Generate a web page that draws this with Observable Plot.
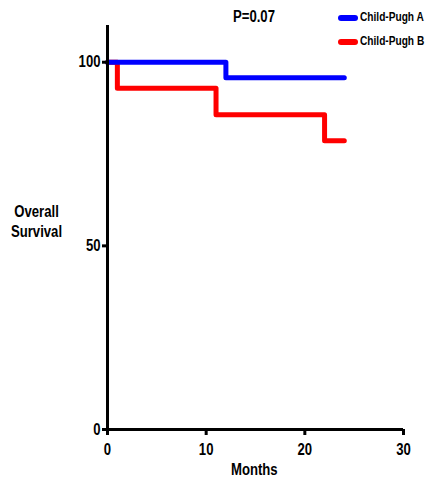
<!DOCTYPE html>
<html>
<head>
<meta charset="utf-8">
<script src="https://cdn.jsdelivr.net/npm/d3@7"></script>
<script src="https://cdn.jsdelivr.net/npm/@observablehq/plot@0.6"></script>
<style>
  html, body { margin: 0; padding: 0; background: #fff; }
  #wrap { position: relative; width: 425px; height: 483px; font-family: "Liberation Sans", Arial, sans-serif; font-weight: bold; }
  .abs { position: absolute; white-space: nowrap; color: #000; transform: scaleX(0.82); transform-origin: left center; }
  .sw { position: absolute; width: 20px; height: 6px; border-radius: 3px; }
</style>
</head>
<body>
<div id="wrap"></div>
<script>
const monthsA = [0, 12, 24];
const survivalA = [100, 95.8, 95.8];
const monthsB = [0, 1, 11, 22, 24];
const survivalB = [100, 92.9, 85.7, 78.6, 78.6];
const groups = ["Child-Pugh A", "Child-Pugh B"];
const colors = ["#0000ff", "#ff0000"];
const xTicks = [0, 10, 20, 30];
const yTicks = [0, 50, 100];
const pValue = "P=0.07";

const dataA = monthsA.map((m, i) => ({month: m, survival: survivalA[i], group: groups[0]}));
const dataB = monthsB.map((m, i) => ({month: m, survival: survivalB[i], group: groups[1]}));

const font = '"Liberation Sans", Arial, sans-serif';

const chart = Plot.plot({
  width: 425,
  height: 483,
  marginLeft: 107,
  marginRight: 22,
  marginTop: 25,
  marginBottom: 54,
  style: {fontFamily: font, fontWeight: "bold", fontSize: "16px", background: "#fff", overflow: "visible"},
  x: {domain: [0, 30], ticks: xTicks},
  y: {domain: [0, 110], ticks: yTicks},
  color: {domain: groups, range: colors},
  marks: [
    Plot.line(dataB, {x: "month", y: "survival", stroke: "group", strokeWidth: 5, curve: "step-after", strokeLinecap: "round"}),
    Plot.line(dataA, {x: "month", y: "survival", stroke: "group", strokeWidth: 5, curve: "step-after", strokeLinecap: "round"}),
    Plot.ruleX([0], {stroke: "#000", strokeWidth: 3}),
    Plot.ruleY([0], {stroke: "#000", strokeWidth: 3}),
    Plot.axisX({ticks: xTicks, tickSize: 6, strokeWidth: 3, tickPadding: 8, fontSize: 16, fontWeight: "bold", label: null}),
    Plot.axisY({ticks: yTicks, tickSize: 5, strokeWidth: 3, tickPadding: 2, fontSize: 16, fontWeight: "bold", label: null})
  ]
});

// condense tick labels horizontally around their anchor point
chart.querySelectorAll('g[aria-label$="tick label"] text').forEach(t => {
  const tr = t.getAttribute("transform") || "";
  t.setAttribute("transform", tr + " scale(0.82,1)");
});

const wrap = document.getElementById("wrap");
wrap.appendChild(chart);

function addText(txt, left, top, size, align) {
  const d = document.createElement("div");
  d.className = "abs";
  d.textContent = txt;
  d.style.left = left + "px";
  d.style.top = top + "px";
  d.style.fontSize = size + "px";
  if (align) d.style.textAlign = align;
  wrap.appendChild(d);
  return d;
}
addText(pValue, 233, 8, 16);
addText("Months", 231, 461, 16);
const ys = addText("Overall\nSurvival", 11, 202, 16, "center");
ys.style.whiteSpace = "pre";
ys.style.lineHeight = "20px";
groups.forEach((g, i) => {
  const s = document.createElement("div");
  s.className = "sw";
  s.style.left = "338px";
  s.style.top = (15 + i * 24) + "px";
  s.style.background = colors[i];
  wrap.appendChild(s);
  const t = addText(g, 360, 9 + i * 24, 13);
  t.style.transform = "scaleX(0.78)";
});
</script>
</body>
</html>
